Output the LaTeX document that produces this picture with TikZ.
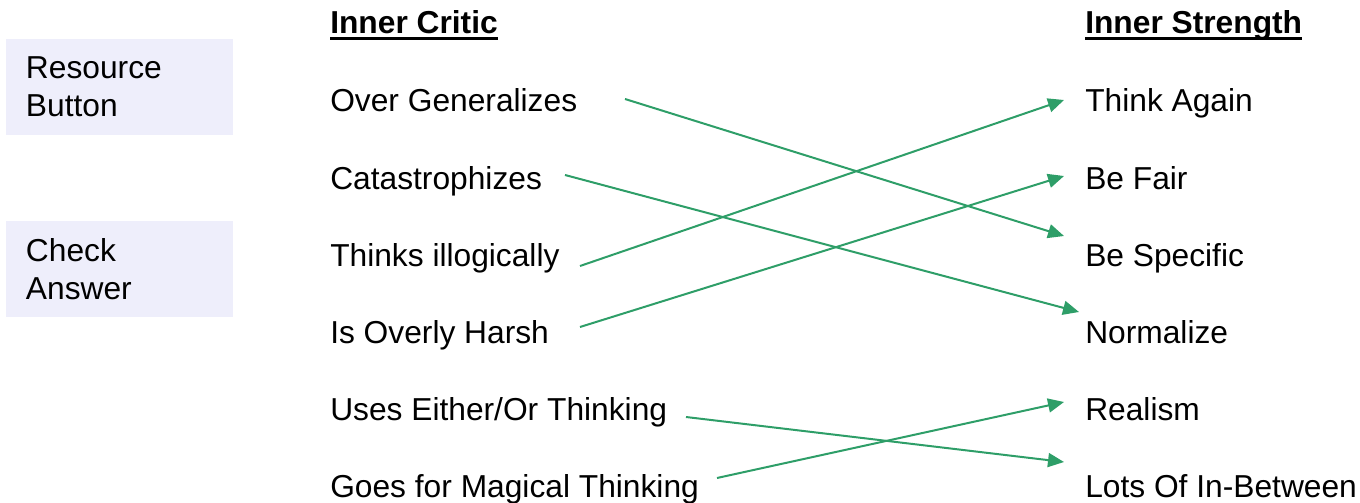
\documentclass[tikz,border=0pt]{standalone}
\usepackage{fontspec}
\setmainfont{Liberation Sans}
\usetikzlibrary{arrows.meta}
\definecolor{linkgreen}{RGB}{46,158,104}
\definecolor{btnfill}{RGB}{238,238,251}
\tikzset{
  item/.style={anchor=base west, inner sep=0pt, font=\fontsize{23.8}{28.5}\selectfont},
  head/.style={item, font=\fontsize{23.8}{28.5}\selectfont\bfseries},
  btnbox/.style={fill=btnfill, minimum width=170.25pt, minimum height=72pt, text width=140.25pt,
    inner xsep=15pt, inner ysep=0pt, align=left, font=\fontsize{23.8}{28.5}\selectfont},
  link/.style={draw=linkgreen, line width=1.5pt, -{Triangle[length=12pt, width=10.5pt]}}
}
\begin{document}
\begin{tikzpicture}[x=0.75pt, y=-0.75pt]
        \useasboundingbox (0,0) rectangle (1360,503);

        % Buttons (left)
        \node[btnbox] (resource) at (119.5,87) {Resource\\Button};
        \node[btnbox] (check) at (119.5,269) {Check\\Answer};

        % Headings
        \node[head] (critic) at (330,34) {Inner Critic};
        \node[head] (strength) at (1085,34) {Inner Strength};
        \draw[line width=2.25pt] ([yshift=-3.75pt]critic.base west) -- ([yshift=-3.75pt]critic.base east);
        \draw[line width=2.25pt] ([yshift=-3.75pt]strength.base west) -- ([yshift=-3.75pt]strength.base east);

        % Inner critic items
        \node[item] (general) at (330,112) {Over Generalizes};
        \node[item] (catastr) at (330,189) {Catastrophizes};
        \node[item] (illogic) at (330,266) {Thinks illogically};
        \node[item] (harsh) at (330,343) {Is Overly Harsh};
        \node[item] (eitheror) at (330,420) {Uses Either/Or Thinking};
        \node[item] (magical) at (330,497) {Goes for Magical Thinking};

        % Inner strength items
        \node[item] (again) at (1085,112) {Think Again};
        \node[item] (fair) at (1085,189) {Be Fair};
        \node[item] (specific) at (1085,266) {Be Specific};
        \node[item] (normal) at (1085,343) {Normalize};
        \node[item] (realism) at (1085,420) {Realism};
        \node[item] (between) at (1085,497) {Lots Of In-Between};

        % Arrow ends
        \coordinate (general-out) at (625,99);
        \coordinate (catastr-out) at (565,175);
        \coordinate (illogic-out) at (580,266);
        \coordinate (harsh-out) at (580,327);
        \coordinate (eitheror-out) at (686,417);
        \coordinate (magical-out) at (717,478);
        \coordinate (again-in) at (1064,100);
        \coordinate (fair-in) at (1064,176);
        \coordinate (specific-in) at (1064,236);
        \coordinate (normal-in) at (1079,312);
        \coordinate (realism-in) at (1064,402);
        \coordinate (between-in) at (1064,462);

        % Matches
        \draw[link] (general-out) -- (specific-in);
        \draw[link] (catastr-out) -- (normal-in);
        \draw[link] (illogic-out) -- (again-in);
        \draw[link] (harsh-out) -- (fair-in);
        \draw[link] (eitheror-out) -- (between-in);
        \draw[link] (magical-out) -- (realism-in);

\end{tikzpicture}
\end{document}
